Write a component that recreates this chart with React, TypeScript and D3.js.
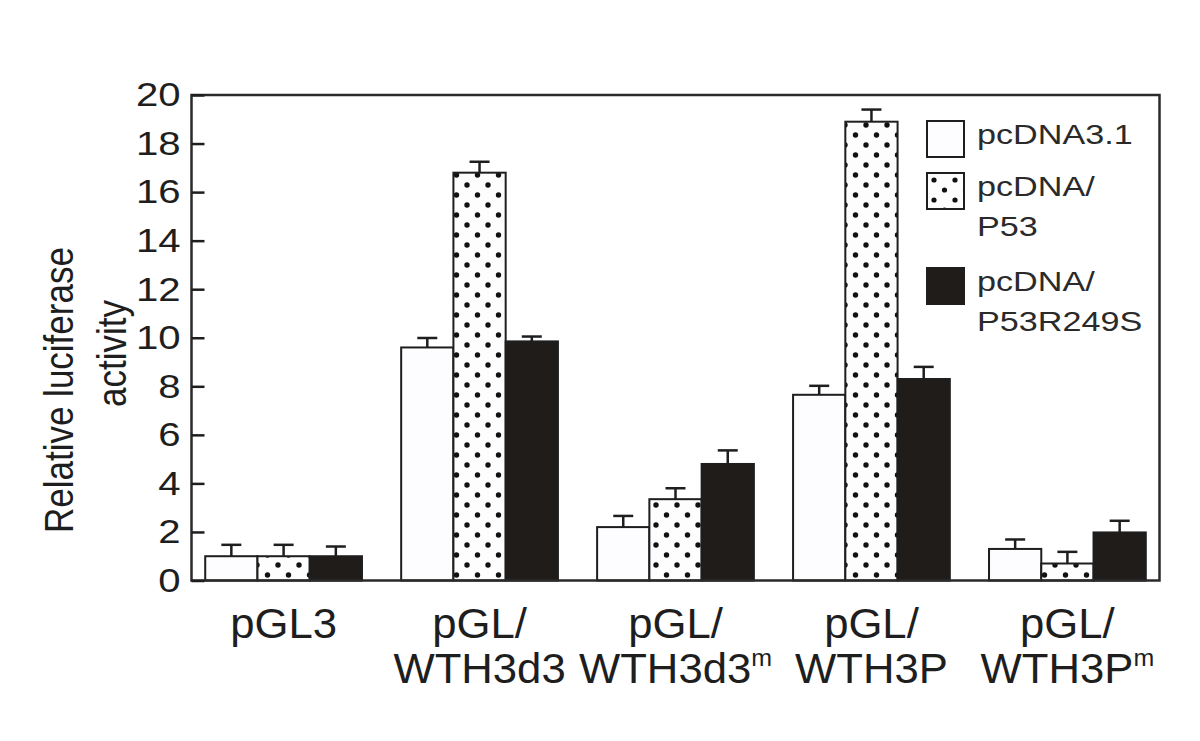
import React, { useEffect, useRef } from "react";
import * as d3 from "d3";

// categories (two-line labels, optional superscript)
const groupTop = ["pGL3", "pGL/", "pGL/", "pGL/", "pGL/"];
const groupBottom = ["", "WTH3d3", "WTH3d3", "WTH3P", "WTH3P"];
const groupSup = ["", "", "m", "", "m"];

const seriesKeys = ["pcDNA3.1", "pcDNA/P53", "pcDNA/P53R249S"];
const legendLines = [["pcDNA3.1"], ["pcDNA/", "P53"], ["pcDNA/", "P53R249S"]];

// values
const pcdna31 = [1.0, 9.6, 2.2, 7.65, 1.3];
const pcdna31Err = [0.47, 0.39, 0.46, 0.37, 0.39];
const p53 = [1.0, 16.8, 3.35, 18.9, 0.7];
const p53Err = [0.47, 0.45, 0.45, 0.5, 0.48];
const p53mut = [1.0, 9.85, 4.8, 8.3, 1.98];
const p53mutErr = [0.4, 0.2, 0.56, 0.5, 0.48];

const yTicks = [0, 2, 4, 6, 8, 10, 12, 14, 16, 18, 20];

const seriesValues = [pcdna31, p53, p53mut];
const seriesErrors = [pcdna31Err, p53Err, p53mutErr];

const FONT = "'Liberation Sans', Arial, Helvetica, sans-serif";
const INK = "#1e1e1e";

const W = 1200;
const H = 741;
const plotLeft = 191.5;
const plotRight = 1159.5;
const plotTop = 95;
const plotBottom = 580.5;

const App = () => {
  const axisRef = useRef<SVGGElement>(null);

  const y = d3.scaleLinear().domain([0, 20]).range([plotBottom, plotTop]);
  const x0 = d3
    .scaleBand<number>()
    .domain(d3.range(groupTop.length))
    .range([plotLeft, plotRight])
    .paddingInner(0.2)
    .paddingOuter(0.07);
  const x1 = d3
    .scaleBand<number>()
    .domain(d3.range(seriesKeys.length))
    .range([0, x0.bandwidth()]);

  const fills = ["#fdfdff", "url(#dots)", "#1f1c1a"];
  const legendFills = ["#fdfdff", "url(#dotsLegend)", "#1f1c1a"];

  useEffect(() => {
    if (!axisRef.current) return;
    const g = d3.select(axisRef.current);
    g.selectAll("*").remove();
    g.call(
      d3
        .axisLeft(y)
        .tickValues(yTicks)
        .tickSizeInner(-13)
        .tickSizeOuter(0)
        .tickPadding(11)
        .tickFormat(d3.format("d"))
    );
    g.select(".domain").remove();
    g.selectAll(".tick line").attr("stroke", INK).attr("stroke-width", 2.5);
    // the source figure is slightly stretched sideways
    g.selectAll(".tick text")
      .attr("font-size", 34)
      .attr("font-family", FONT)
      .attr("fill", INK)
      .attr("x", -11 / 1.18)
      .attr("transform", "scale(1.18,1)");
    // eslint-disable-next-line react-hooks/exhaustive-deps
  }, []);

  // legend layout
  const legX = 927;
  const legRows = [121, 173, 268];
  const boxW = 37;
  const boxH = 36;

  return (
    <svg
      width={W}
      height={H}
      style={{ position: "absolute", left: 0, top: 0, background: "#fff" }}
      fontFamily={FONT}
    >
      <defs>
        <pattern id="dots" patternUnits="userSpaceOnUse" width={21} height={20}>
          <rect width={21} height={20} fill="#fdfdfd" />
          <circle cx={5} cy={5} r={2.7} fill="#111" />
          <circle cx={15.5} cy={15} r={2.7} fill="#111" />
        </pattern>
        <pattern
          id="dotsLegend"
          patternUnits="userSpaceOnUse"
          x={legX + 2}
          y={legRows[1] + 2}
          width={21}
          height={20}
        >
          <rect width={21} height={20} fill="#fdfdfd" />
          <circle cx={5} cy={5} r={2.6} fill="#111" />
          <circle cx={15.5} cy={15} r={2.6} fill="#111" />
        </pattern>
      </defs>

      <rect width={W} height={H} fill="#fff" />

      {/* bars */}
      {groupTop.map((_, gi) =>
        seriesKeys.map((_, si) => {
          const v = seriesValues[si][gi];
          const e = seriesErrors[si][gi];
          const bx = (x0(gi) as number) + (x1(si) as number);
          const bw = x1.bandwidth();
          const cx = bx + bw / 2;
          return (
            <g key={`${gi}-${si}`}>
              <line x1={cx} x2={cx} y1={y(v)} y2={y(v + e)} stroke={INK} strokeWidth={2.5} />
              <line x1={cx - 10} x2={cx + 10} y1={y(v + e)} y2={y(v + e)} stroke={INK} strokeWidth={2.5} />
              <rect
                x={bx}
                y={y(v)}
                width={bw}
                height={y(0) - y(v)}
                fill={fills[si]}
                stroke={INK}
                strokeWidth={2}
              />
            </g>
          );
        })
      )}

      {/* frame */}
      <rect
        x={plotLeft}
        y={plotTop}
        width={plotRight - plotLeft}
        height={plotBottom - plotTop}
        fill="none"
        stroke="#2a2a2a"
        strokeWidth={2.5}
      />

      <g ref={axisRef} transform={`translate(${plotLeft},0)`} />

      {/* x labels */}
      {groupTop.map((t, gi) => {
        const cx = (x0(gi) as number) + x0.bandwidth() / 2;
        return (
          <g key={gi} fontSize={42} fill={INK} textAnchor="middle">
            <text transform={`translate(${cx},638) scale(1.04,1)`}>{t}</text>
            {groupBottom[gi] && (
              <text transform={`translate(${cx},683) scale(1.04,1)`}>
                {groupBottom[gi]}
                {groupSup[gi] && (
                  <tspan fontSize={24} dy={-17}>
                    {groupSup[gi]}
                  </tspan>
                )}
              </text>
            )}
          </g>
        );
      })}

      {/* y title */}
      <g fontSize={35} fill={INK}>
        <text transform="translate(73,533) scale(1.18,1) rotate(-90)">Relative luciferase</text>
        <text transform="translate(126,407) scale(1.18,1) rotate(-90)">activity</text>
      </g>

      {/* legend */}
      {seriesKeys.map((k, si) => (
        <g key={k}>
          <rect
            x={legX}
            y={legRows[si]}
            width={boxW}
            height={boxH}
            fill={legendFills[si]}
            stroke={INK}
            strokeWidth={2}
          />
          {legendLines[si].map((line, li) => (
            <text
              key={li}
              transform={`translate(${legX + 50},${legRows[si] + 23 + li * 40}) scale(1.22,1)`}
              fontSize={28}
              fill="#2a2a2a"
            >
              {line}
            </text>
          ))}
        </g>
      ))}
    </svg>
  );
};

export default App;
